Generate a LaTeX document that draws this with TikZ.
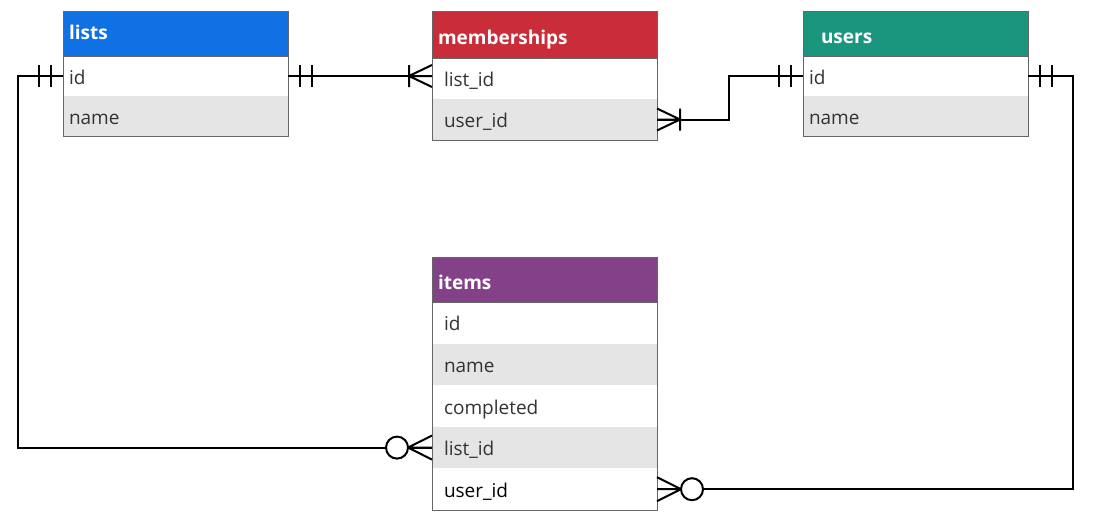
\documentclass[tikz,border=0pt]{standalone}
\usepackage{fontspec}
\setmainfont{Open Sans}
\usetikzlibrary{positioning}

\definecolor{listsblue}{HTML}{1071E5}
\definecolor{memred}{HTML}{C92D39}
\definecolor{usersteal}{HTML}{19967D}
\definecolor{itemspurple}{HTML}{834187}
\definecolor{rowgray}{HTML}{E5E5E5}
\definecolor{bordergray}{HTML}{666666}
\definecolor{rowtext}{HTML}{333333}

\tikzset{
  tablehead/.style={fill=#1, draw=bordergray, line width=1pt, text=white,
    font=\bfseries\fontsize{19}{19}\selectfont, minimum width=225pt,
    anchor=north west, outer sep=0pt, inner ysep=0pt, align=left,
    text height=20pt, text depth=0pt},
  pad/.style={inner xsep=#1, text width=225pt-2*#1},
  row/.style={fill=white, text=rowtext, font=\fontsize{19}{19}\selectfont,
    minimum width=225pt, outer sep=0pt, inner ysep=0pt, align=left,
    text height=17pt, text depth=1pt},
  rowalt/.style={row, fill=rowgray},
  tableborder/.style={draw=bordergray, line width=1pt},
  relation/.style={line width=2pt, black},
  onlyone/.pic={\draw[relation] (12,-11) -- (12,11) (24,-11) -- (24,11);},
  onemany/.pic={\draw[relation] (23,-11) -- (23,11) (0,-11) -- (23,0) -- (0,11) (0,0) -- (23,0);},
  zeromany/.pic={\draw[relation] (0,-12) -- (24,0) -- (0,12) (0,0) -- (24,0);
    \draw[relation, fill=white] (35,0) circle (11pt);}
}

\begin{document}
\begin{tikzpicture}[x=1pt, y=-1pt]
\useasboundingbox (0,0) rectangle (1094,525);

\node[tablehead=listsblue, pad=6pt, minimum height=45pt, text height=15pt, text depth=3pt] (listshead) at (63,11) {lists};
\node[row, pad=6pt, minimum height=40pt, below=0pt of listshead] (listsid) {id};
\node[rowalt, pad=6pt, minimum height=40pt, below=0pt of listsid] (listsname) {name};
\draw[tableborder] (listshead.north west) rectangle (listsname.south east);
\draw[tableborder] (listshead.south west) -- (listshead.south east);

\node[tablehead=memred, pad=6pt, minimum height=47pt] (memhead) at (432,11) {memberships};
\node[row, pad=12pt, minimum height=41pt, below=0pt of memhead] (memlistid) {list\_id};
\node[rowalt, pad=12pt, minimum height=41pt, below=0pt of memlistid] (memuserid) {user\_id};
\draw[tableborder] (memhead.north west) rectangle (memuserid.south east);
\draw[tableborder] (memhead.south west) -- (memhead.south east);

\node[tablehead=usersteal, pad=18pt, minimum height=45pt] (usershead) at (803,11) {users};
\node[row, pad=6pt, minimum height=40pt, below=0pt of usershead] (usersid) {id};
\node[rowalt, pad=6pt, minimum height=40pt, below=0pt of usersid] (usersname) {name};
\draw[tableborder] (usershead.north west) rectangle (usersname.south east);
\draw[tableborder] (usershead.south west) -- (usershead.south east);

\node[tablehead=itemspurple, pad=6pt, minimum height=45pt] (itemshead) at (432,257) {items};
\node[row, pad=12pt, minimum height=41.6pt, below=0pt of itemshead] (itemsid) {id};
\node[rowalt, pad=12pt, minimum height=41.6pt, below=0pt of itemsid] (itemsname) {name};
\node[row, pad=12pt, minimum height=41.6pt, below=0pt of itemsname] (itemscompleted) {completed};
\node[rowalt, pad=12pt, minimum height=41.6pt, below=0pt of itemscompleted] (itemslistid) {list\_id};
\node[row, pad=12pt, minimum height=41.6pt, below=0pt of itemslistid, text=black] (itemsuserid) {user\_id};
\draw[tableborder] (itemshead.north west) rectangle (itemsuserid.south east);
\draw[tableborder] (itemshead.south west) -- (itemshead.south east);

\coordinate (memin) at (listsid.east -| memlistid.west);
\draw[relation] (listsid.east) -- (memin);
\draw[relation] (memuserid.east) -- ++(72,0) |- (usersid.west);
\draw[relation] (usersid.east) -- ++(45,0) |- (itemsuserid.east);
\draw[relation] (listsid.west) -- ++(-45,0) |- (itemslistid.west);

\pic at (listsid.east) {onlyone};
\pic[xscale=-1] at (memin) {onemany};
\pic at (memuserid.east) {onemany};
\pic[xscale=-1] at (usersid.west) {onlyone};
\pic at (usersid.east) {onlyone};
\pic at (itemsuserid.east) {zeromany};
\pic[xscale=-1] at (listsid.west) {onlyone};
\pic[xscale=-1] at (itemslistid.west) {zeromany};
\end{tikzpicture}
\end{document}
